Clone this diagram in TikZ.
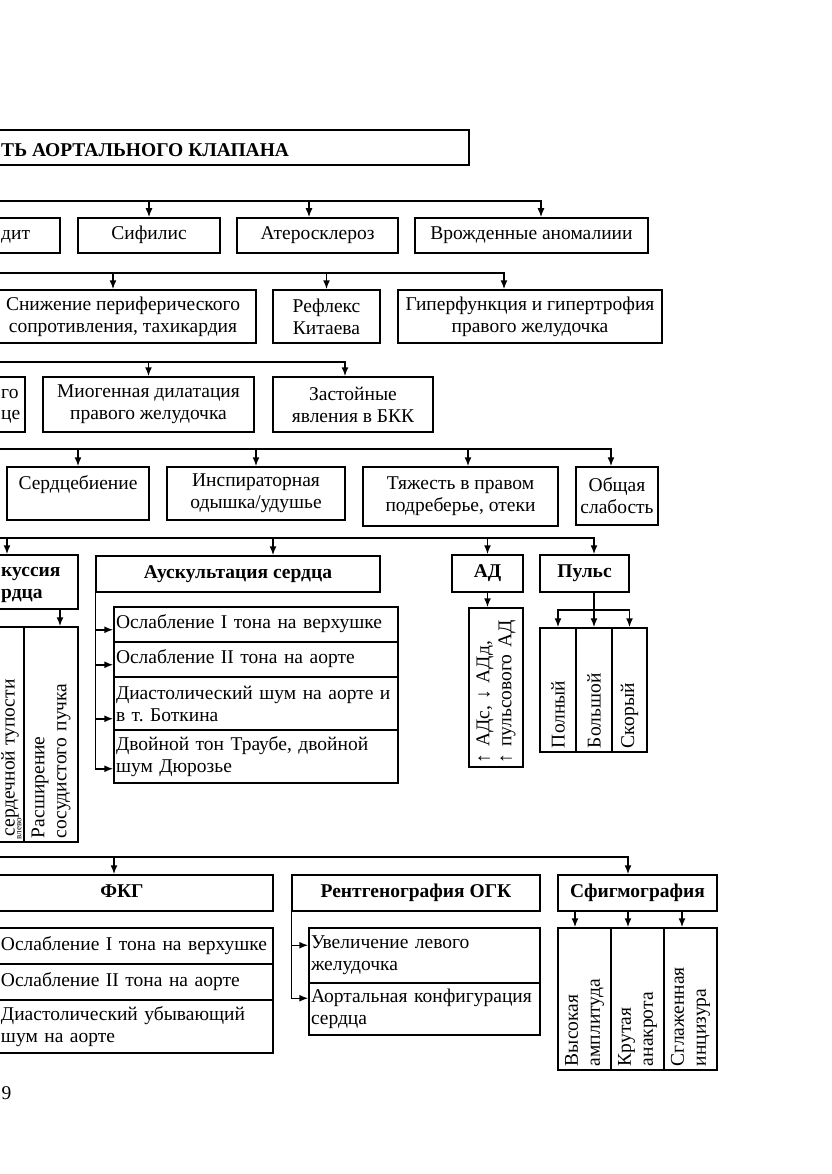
\documentclass[tikz,border=0pt]{standalone}
\usepackage{fontspec}
\setmainfont{Liberation Serif}
\usetikzlibrary{arrows.meta}
\def\fs{\fontsize{19.5}{22}\selectfont}
\def\fsmall{\fontsize{9}{11}\selectfont}
\frenchspacing

\begin{document}
\begin{tikzpicture}[x=1pt,y=-1pt,line width=1.5pt,
        box/.style={draw,inner sep=0pt,align=center,font=\fs},
        one/.style={text height=15.4pt,text depth=6.6pt},
        frag/.style={inner sep=0pt,font=\fs,text height=15.4pt,text depth=6.6pt},
        item/.style={draw,inner xsep=2pt,inner ysep=0pt,text width=280pt,align=left,font=\fs},
        cell/.style={draw,rotate=90,align=left,font=\fs,inner xsep=4pt,inner ysep=0pt},
        arr/.style={-{Latex[length=9pt,width=7pt]}}]
            \path[use as bounding box,clip] (0,0) rectangle (831,1174);

            \node[box,minimum width=489pt,minimum height=35pt] (title) at (224.5,147.5) {};
            \node[frag,font=\fs\bfseries,anchor=base west] (titletxt) at (0.5,157) {ТЬ АОРТАЛЬНОГО КЛАПАНА};

            \node[box,minimum width=120pt,minimum height=35pt] (endo) at (0,235.5) {};
            \node[frag,anchor=west] (endotxt) at (0.5,235.5) {дит};
            \node[box,one,minimum width=142pt,minimum height=35pt] (sif) at (149,235.5) {Сифилис};
            \node[box,one,minimum width=161pt,minimum height=35pt] (ater) at (317.5,235.5) {Атеросклероз};
            \node[box,one,minimum width=233pt,minimum height=35pt] (vrozh) at (531.5,235.5) {Врожденные аномалиии};

            \node[box,minimum width=266pt,minimum height=53pt] (snizh) at (123,316.5) {Снижение периферического\\сопротивления, тахикардия};
            \node[box,minimum width=107pt,minimum height=53pt] (refl) at (326.5,316.5) {Рефлекс\\Китаева};
            \node[box,minimum width=264pt,minimum height=53pt] (giper) at (530,316.5) {Гиперфункция и гипертрофия\\правого желудочка};

            \node[box,minimum width=85pt,minimum height=55pt] (hyp) at (-17.5,404.5) {};
            \node[frag,anchor=base west] (hyptxt) at (0.5,398) {го};
            \node[frag,anchor=base west] (hyptxtb) at (0.5,419) {це};
            \node[box,minimum width=211pt,minimum height=55pt] (miog) at (148.5,404.5) {Миогенная дилатация\\правого желудочка};
            \node[box,minimum width=160pt,minimum height=55pt] (zast) at (353,404.5) {Застойные\\явления в БКК};

            \node[box,minimum width=142pt,minimum height=53pt] (palp) at (78,493.5) {Сердцебиение\\\mbox{}};
            \node[box,minimum width=178pt,minimum height=53pt] (insp) at (256,493.5) {Инспираторная\\одышка/удушье};
            \node[box,minimum width=195pt,minimum height=59pt] (tyazh) at (460.5,496.5) {Тяжесть в правом\\подреберье, отеки};
            \node[box,minimum width=82pt,minimum height=58pt] (slab) at (617,496) {Общая\\слабость};

            \node[box,minimum width=138pt,minimum height=54pt] (perk) at (9,582) {};
            \node[frag,font=\fs\bfseries,anchor=base west] (perktxt) at (0.5,576) {куссия};
            \node[frag,font=\fs\bfseries,anchor=base west] (perktxtb) at (0.5,598) {рдца};
            \node[box,one,font=\fs\bfseries,minimum width=284pt,minimum height=36pt] (ausk) at (238,574) {Аускультация сердца};
            \node[box,one,font=\fs\bfseries,minimum width=71pt,minimum height=37pt] (ad) at (487.5,573.5) {АД};
            \node[box,one,font=\fs\bfseries,minimum width=89pt,minimum height=37pt] (puls) at (584.5,573.5) {Пульс};

            \node[box,minimum width=84pt,minimum height=215pt] (perka) at (-18,734.5) {};
            \node[rotate=90,anchor=north west,font=\fs,inner sep=0pt] (perkatxt) at (0.5,837) {сердечной тупости};
            \node[rotate=90,anchor=north west,font=\fsmall,inner sep=0pt] (perkatxtb) at (16.5,840) {влево};
            \node[cell,text width=207pt,minimum height=54pt] (perkb) at (51,734.5) {Расширение\\сосудистого пучка};

            \node[item,one,minimum height=35pt] (aa) at (256,624.5) {Ослабление I тона на верхушке};
            \node[item,one,minimum height=35pt] (ab) at (256,659.5) {Ослабление II тона на аорте};
            \node[item,minimum height=53pt] (ac) at (256,703.5) {Диастолический шум на аорте и\\в т. Боткина};
            \node[item,minimum height=53pt] (ae) at (256,756.5) {Двойной тон Траубе, двойной\\шум Дюрозье};

            \node[cell,text width=151pt,minimum height=54pt] (adc) at (496,687.5) {↑ АДс, ↓ АДд,\\↑ пульсового АД};

            \node[cell,text width=116pt,minimum height=36pt] (pa) at (558,690) {Полный};
            \node[cell,text width=116pt,minimum height=36pt] (pb) at (594,690) {Большой};
            \node[cell,text width=116pt,minimum height=35pt] (pc) at (629.5,690) {Скорый};

            \node[box,one,font=\fs\bfseries,minimum width=302pt,minimum height=36pt] (fkg) at (122,893) {ФКГ};
            \node[box,one,font=\fs\bfseries,minimum width=248pt,minimum height=36pt] (rent) at (416,893) {Рентгенография ОГК};
            \node[box,one,font=\fs\bfseries,minimum width=159pt,minimum height=36pt] (sfig) at (637.5,893) {Сфигмография};

            \node[item,one,text width=270pt,minimum height=36pt] (fa) at (136,946) {Ослабление I тона на верхушке};
            \node[item,one,text width=270pt,minimum height=36pt] (fb) at (136,982) {Ослабление II тона на аорте};
            \node[item,text width=270pt,minimum height=53pt] (fc) at (136,1026.5) {Диастолический убывающий\\шум на аорте};

            \node[item,text width=227pt,minimum height=55pt] (ra) at (424.5,955.5) {Увеличение левого\\желудочка};
            \node[item,text width=227pt,minimum height=52pt] (rb) at (424.5,1009) {Аортальная конфигурация\\сердца};

            \node[cell,text width=134pt,minimum height=53pt] (sa) at (584.5,999) {Высокая\\амплитуда};
            \node[cell,text width=134pt,minimum height=53pt] (sb) at (637.5,999) {Крутая\\анакрота};
            \node[cell,text width=134pt,minimum height=53pt] (sc) at (690.5,999) {Сглаженная\\инцизура};

            \node[frag,anchor=base west] (pagenum) at (1,1099) {9};

            \coordinate (busa) at (-10,201);
            \coordinate (busb) at (-10,273);
            \coordinate (busc) at (-10,362);
            \coordinate (busd) at (-10,449);
            \coordinate (buse) at (-10,538);
            \coordinate (busf) at (-10,857);
            \coordinate (pbar) at (0,610);

            \draw[arr] (busa) -| ([xshift=9.5pt]vrozh.north);
            \draw[arr] (sif.north |- busa) -- (sif.north);
            \draw[arr] ([xshift=-8.5pt]ater.north |- busa) -- ([xshift=-8.5pt]ater.north);

            \draw[arr] (busb) -| ([xshift=-26pt]giper.north);
            \draw[arr] ([xshift=-10pt]snizh.north |- busb) -- ([xshift=-10pt]snizh.north);
            \draw[arr] (refl.north |- busb) -- (refl.north);

            \draw[arr] (busc) -| ([xshift=-8pt]zast.north);
            \draw[arr] (miog.north |- busc) -- (miog.north);

            \draw[arr] (busd) -| ([xshift=-6pt]slab.north);
            \draw[arr] (palp.north |- busd) -- (palp.north);
            \draw[arr] (insp.north |- busd) -- (insp.north);
            \draw[arr] ([xshift=7.5pt]tyazh.north |- busd) -- ([xshift=7.5pt]tyazh.north);

            \draw[arr] (buse) -| ([xshift=9.5pt]puls.north);
            \draw[arr] ([xshift=-2pt]perk.north |- buse) -- ([xshift=-2pt]perk.north);
            \draw[arr] ([xshift=35pt]ausk.north |- buse) -- ([xshift=35pt]ausk.north);
            \draw[arr] (ad.north |- buse) -- (ad.north);

            \draw[arr] ([xshift=9pt]perkb.east |- perk.south) -- ([xshift=9pt]perkb.east);

            \draw[arr] (ausk.south west) |- ([yshift=15pt]ae.south west);
            \draw[arr] ([yshift=13pt]aa.south west -| ausk.south west) -- ([yshift=13pt]aa.south west);
            \draw[arr] ([yshift=13pt]ab.south west -| ausk.south west) -- ([yshift=13pt]ab.south west);
            \draw[arr] ([yshift=12pt]ac.south west -| ausk.south west) -- ([yshift=12pt]ac.south west);

            \draw[arr] (ad.south) -- (ad.south |- adc.east);

            \draw[arr] (pb.east |- puls.south) -- (pb.east);
            \draw[arr] (pb.east |- pbar) -| (pa.east);
            \draw[arr] (pb.east |- pbar) -| (pc.east);

            \draw[arr] (busf) -| ([xshift=-9.5pt]sfig.north);
            \draw[arr] ([xshift=-8pt]fkg.north |- busf) -- ([xshift=-8pt]fkg.north);

            \draw[arr] (rent.south west) |- ([yshift=-16pt]rb.north west);
            \draw[arr] ([yshift=-18pt]ra.north west -| rent.south west) -- ([yshift=-18pt]ra.north west);

            \draw[arr] ([xshift=-9.5pt]sa.east |- sfig.south) -- ([xshift=-9.5pt]sa.east);
            \draw[arr] ([xshift=-9.5pt]sb.east |- sfig.south) -- ([xshift=-9.5pt]sb.east);
            \draw[arr] ([xshift=-8.5pt]sc.east |- sfig.south) -- ([xshift=-8.5pt]sc.east);
        \end{tikzpicture}
\end{document}
